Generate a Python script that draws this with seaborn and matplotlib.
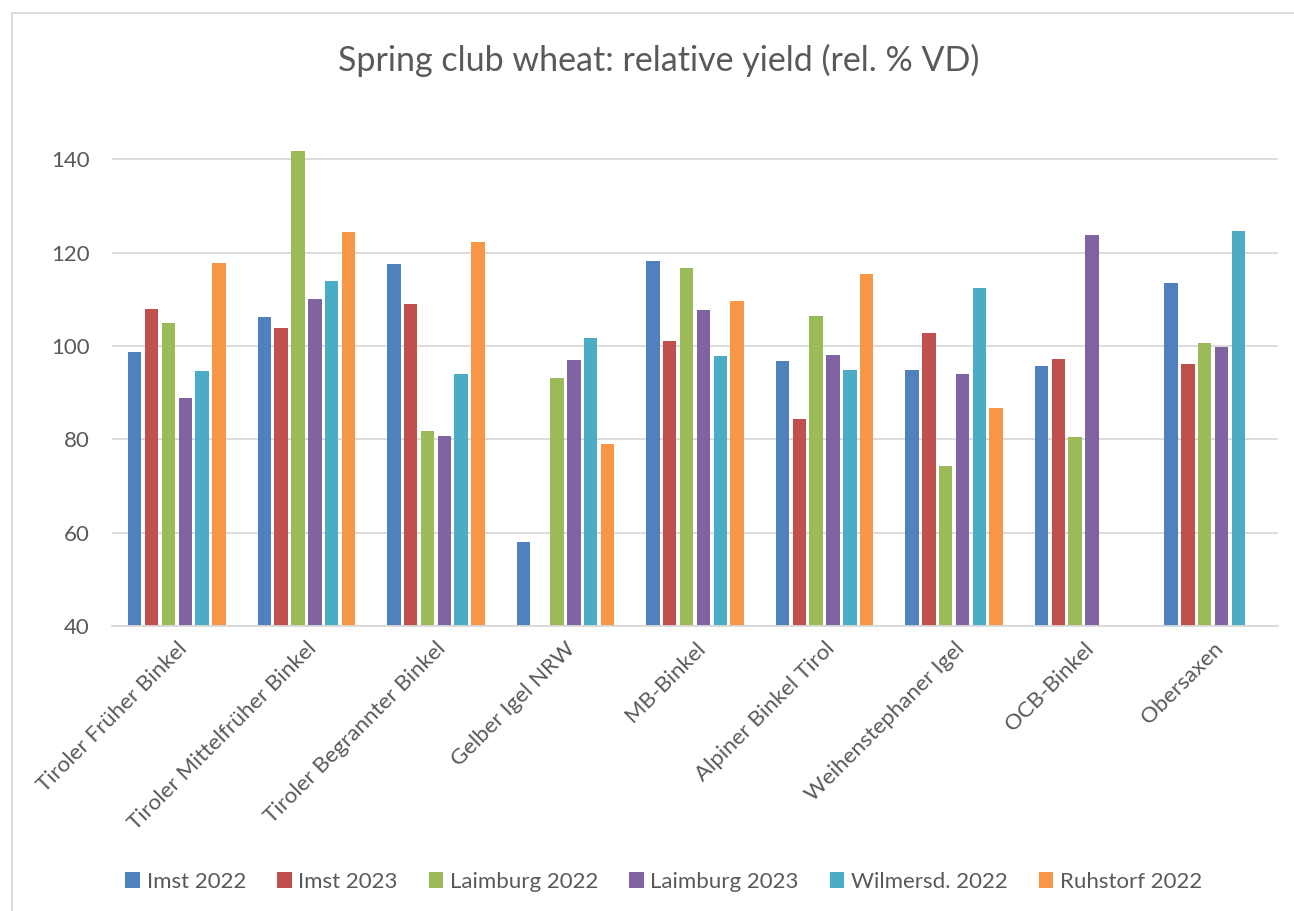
import numpy as np
import pandas as pd
import matplotlib
matplotlib.use("Agg")
import matplotlib.pyplot as plt
import seaborn as sns

varieties = [
    "Tiroler Früher Binkel",
    "Tiroler Mittelfrüher Binkel",
    "Tiroler Begrannter Binkel",
    "Gelber Igel NRW",
    "MB-Binkel",
    "Alpiner Binkel Tirol",
    "Weihenstephaner Igel",
    "OCB-Binkel",
    "Obersaxen",
]

sites = ["Imst 2022", "Imst 2023", "Laimburg 2022", "Laimburg 2023",
         "Wilmersd. 2022", "Ruhstorf 2022"]

imst_2022 = [98.7, 106.3, 117.6, 58.0, 118.2, 96.8, 94.9, 95.8, 113.4]
imst_2023 = [108.0, 103.8, 108.9, 0.0, 101.1, 84.4, 102.7, 97.3, 96.1]
laimburg_2022 = [105.0, 141.7, 81.7, 93.1, 116.6, 106.5, 74.2, 80.4, 100.7]
laimburg_2023 = [88.9, 110.0, 80.6, 97.0, 107.8, 98.0, 93.9, 123.7, 99.8]
wilmersd_2022 = [94.6, 114.0, 93.9, 101.6, 97.8, 94.8, 112.5, 0.0, 124.7]
ruhstorf_2022 = [117.7, 124.5, 122.2, 78.9, 109.7, 115.4, 86.8, 0.0, 0.0]

series = [imst_2022, imst_2023, laimburg_2022, laimburg_2023,
          wilmersd_2022, ruhstorf_2022]

colors = ["#4F81BD", "#C0504D", "#9BBB59", "#8064A2", "#4BACC6", "#F79646"]

title = "Spring club wheat: relative yield (rel. % VD)"
y_ticks = [40, 60, 80, 100, 120, 140]

df = pd.DataFrame(
    [(v, s, vals[i]) for s, vals in zip(sites, series)
     for i, v in enumerate(varieties)],
    columns=["variety", "site", "yield"],
)

sns.set_theme(style="white")
plt.rcParams["font.family"] = ["Lato", "DejaVu Sans"]
text_color = "#595959"
grid_color = "#D9D9D9"

fig = plt.figure(figsize=(12.94, 9.11), dpi=100)
ax = fig.add_axes([0.0866, 0.3128, 0.901, 0.5637])

sns.barplot(
    data=df, x="variety", y="yield", hue="site",
    order=varieties, hue_order=sites, palette=colors,
    width=0.78, gap=0.2, saturation=1, errorbar=None,
    linewidth=0, ax=ax, legend=True,
)

ax.set_ylim(40, 150)
ax.set_yticks(y_ticks)
ax.set_xlim(-0.5, len(varieties) - 0.5)
ax.yaxis.grid(True, color=grid_color, linewidth=1.3)
ax.set_axisbelow(True)
for side in ["top", "right", "left"]:
    ax.spines[side].set_visible(False)
ax.spines["bottom"].set_color(grid_color)
ax.spines["bottom"].set_linewidth(1.3)
ax.set_xlabel("")
ax.set_ylabel("")
ax.tick_params(axis="y", length=0, pad=16, labelsize=16, labelcolor=text_color)
ax.tick_params(axis="x", length=0, pad=9, labelsize=16, labelcolor=text_color)
for lbl in ax.get_xticklabels():
    lbl.set_rotation(45)
    lbl.set_ha("right")
    lbl.set_rotation_mode("anchor")

fig.text(0.509, 1 - 60 / 911, title, fontsize=24.5, color=text_color,
         ha="center", va="center")

handles, labels = ax.get_legend_handles_labels()
ax.get_legend().remove()
fig.legend(
    handles, labels, loc="center", bbox_to_anchor=(0.513, 0.032),
    ncol=6, frameon=False, fontsize=16, labelcolor=text_color,
    handlelength=0.65, handleheight=0.7, handletextpad=0.3,
    columnspacing=1.4,
)

# light frame around the chart area
fig.add_artist(plt.Line2D([12 / 1294, 12 / 1294], [0, 1 - 13 / 911],
                          transform=fig.transFigure, color=grid_color, lw=1.3))
fig.add_artist(plt.Line2D([12 / 1294, 1], [1 - 13 / 911, 1 - 13 / 911],
                          transform=fig.transFigure, color=grid_color, lw=1.3))

fig.savefig("out.png", dpi=100, facecolor="white")
